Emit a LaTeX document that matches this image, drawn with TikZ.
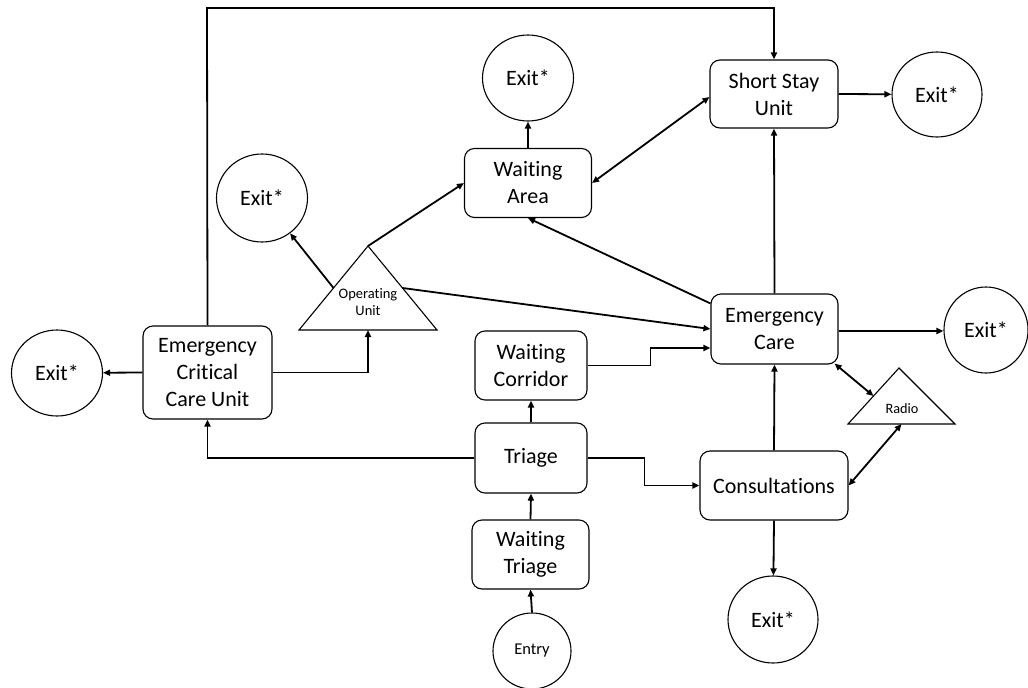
\documentclass[tikz,border=0pt]{standalone}
\usepackage{fontspec}
\setmainfont{Carlito}[Ligatures=NoCommon]
\usetikzlibrary{shapes.geometric,arrows.meta,calc}
\begin{document}
\begin{tikzpicture}[x=1pt,y=-1pt,
 box/.style={draw,rounded corners=10pt,line width=1.1pt,align=center,inner sep=0pt,font=\fontsize{22}{27}\selectfont},
 exitnode/.style={draw,ellipse,line width=1.1pt,inner sep=0pt,font=\fontsize{22}{27}\selectfont},
 trishape/.style={draw,line width=1.1pt,line join=miter},
 conn/.style={line width=1.8pt,-{Triangle[length=7pt,width=6pt]}},
 dconn/.style={line width=1.8pt,{Triangle[length=7pt,width=6pt]}-{Triangle[length=7pt,width=6pt]}}]
\useasboundingbox (0,0) rectangle (1028,688);

% boxes
\node[box,minimum width=128pt,minimum height=68pt] (ssu) at (774,94) {Short Stay\\Unit};
\node[box,minimum width=127pt,minimum height=69pt] (wa) at (528,183) {Waiting\\Area};
\node[box,minimum width=127pt,minimum height=70pt] (ec) at (774.5,329) {Emergency\\Care};
\node[box,minimum width=129pt,minimum height=93pt] (eccu) at (207.5,372.5) {Emergency\\Critical\\Care Unit};
\node[box,minimum width=112pt,minimum height=69pt] (wc) at (531,365.5) {Waiting\\Corridor};
\node[box,minimum width=112pt,minimum height=70pt] (tri) at (531,458) {Triage};
\node[box,minimum width=117pt,minimum height=69pt] (wt) at (530.5,554.5) {Waiting\\Triage};
\node[box,minimum width=148pt,minimum height=69pt] (cons) at (774,485.5) {Consultations};

% exits
\node[exitnode,minimum width=91pt,minimum height=86pt] (exTop) at (528,78) {Exit*};
\node[exitnode,minimum width=90pt,minimum height=85pt] (exSSU) at (937,94.5) {Exit*};
\node[exitnode,minimum width=91pt,minimum height=88pt] (exL) at (262,198) {Exit*};
\node[exitnode,minimum width=84pt,minimum height=86pt] (exEC) at (986,330) {Exit*};
\node[exitnode,minimum width=91pt,minimum height=86pt] (exFL) at (57,373) {Exit*};
\node[exitnode,minimum width=90pt,minimum height=87pt] (exC) at (773,619.5) {Exit*};
\node[exitnode,minimum width=78pt,minimum height=76pt,font=\fontsize{16.5}{20}\selectfont] (entry) at (532,651) {Entry};

% operating unit triangle
\coordinate (ouA) at (368,246);
\coordinate (ouL) at (299,330);
\coordinate (ouR) at (437,330);
\draw[trishape] (ouA) -- (ouL) -- (ouR) -- cycle;
\coordinate (ouLm) at ($(ouA)!0.5!(ouL)$);
\coordinate (ouRm) at ($(ouA)!0.5!(ouR)$);
\coordinate (ouB) at ($(ouL)!0.5!(ouR)$);
\node[align=center,inner sep=0pt,font=\fontsize{14.5}{17}\selectfont] (ou) at (368,302) {Operating\\Unit};

% radio triangle
\coordinate (raA) at (899,368);
\coordinate (raL) at (848,424);
\coordinate (raR) at (955,424);
\draw[trishape] (raA) -- (raL) -- (raR) -- cycle;
\coordinate (raLm) at ($(raA)!0.5!(raL)$);
\coordinate (raB) at ($(raL)!0.5!(raR)$);
\node[inner sep=0pt,font=\fontsize{14.3}{17}\selectfont] (radio) at (902,409) {Radio};

% connectors
\coordinate (topc) at (207,8);
\draw[conn] (eccu.north) -- (topc) -| (ssu.north);
\draw[conn] (eccu.west) -- (exFL);
\draw[conn] (eccu.east) -| (ouB);
\draw[conn] (ouLm) -- (exL);
\draw[conn] (ouA) -- (wa.west);
\draw[conn] (ouRm) -- (ec.west);
\draw[conn] (wa.north) -- (exTop);
\draw[dconn] (wa.east) -- ([yshift=-3pt]ssu.west);
\draw[conn] ([yshift=-10pt]ec.north west) -- (wa.south);
\draw[conn] (ec.north) -- (ssu.south);
\draw[conn] (ssu.east) -- (exSSU);
\draw[conn] ([yshift=-2pt]ec.east) -- ([yshift=-2pt]ec.east -| exEC.west);
\draw[conn] (wc.east) -- ++(63,0) |- ([yshift=-19pt]ec.west);
\draw[conn] (tri.north) -- (wc.south);
\draw[conn] (tri.west) -| (eccu.south);
\draw[conn] (tri.east) -- ++(57,0) |- (cons.west);
\draw[conn] (wt.north) -- (tri.south);
\draw[conn] (entry.north) -- (wt.south);
\draw[conn] (cons.north) -- (ec.south);
\draw[conn] (cons.south) -- (exC);
\draw[dconn] ([xshift=-4pt,yshift=1pt]ec.south east) -- (raLm);
\draw[dconn] (cons.east) -- (raB);
\end{tikzpicture}
\end{document}
